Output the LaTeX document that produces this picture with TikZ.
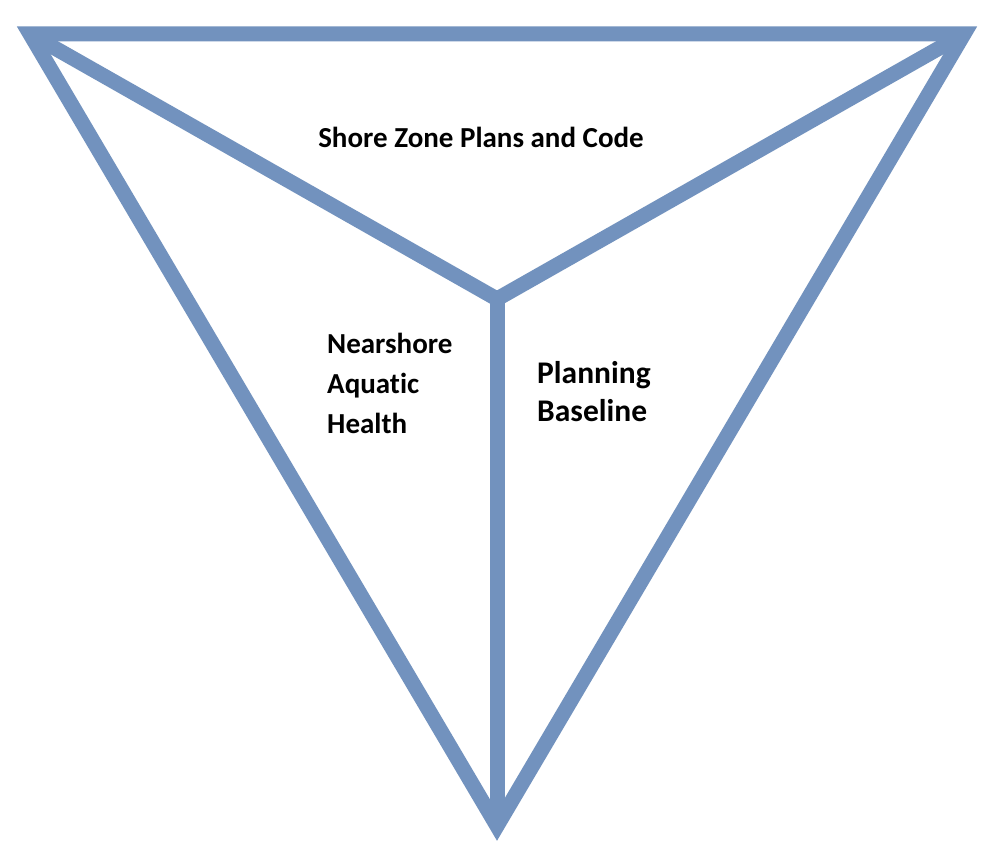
\documentclass[tikz,border=0pt]{standalone}
\usepackage{fontspec}
\setmainfont{Carlito}[Ligatures=NoCommon]
\definecolor{edgeblue}{RGB}{114,146,190}
\begin{document}
\begin{tikzpicture}[x=1pt,y=-1pt,
  bar/.style={draw=edgeblue,line width=15pt,line join=miter,miter limit=10},
  lbl/.style={inner sep=0pt,font=\bfseries\fontsize{29}{40}\selectfont,align=left,text=black}]
\useasboundingbox[fill=white] (0,0) rectangle (989,851);
\coordinate (tl) at (30,34);
\coordinate (tr) at (964,34);
\coordinate (bt) at (497,826);
\coordinate (ctr) at (497,299);
\draw[bar] (tl) -- (tr) -- (bt) -- cycle;
\draw[bar] (tl) -- (ctr) -- (tr);
\draw[bar] (ctr) -- (bt);
\node[lbl,anchor=base] (shore) at (481,147) {Shore Zone Plans and Code};
\node[lbl,anchor=base west] (near) at (327,433) {Nearshore\\Aquatic\\Health};
\node[lbl,anchor=base west,font=\bfseries\fontsize{31.5}{38}\selectfont] (plan) at (537,421) {Planning\\Baseline};
\end{tikzpicture}
\end{document}
